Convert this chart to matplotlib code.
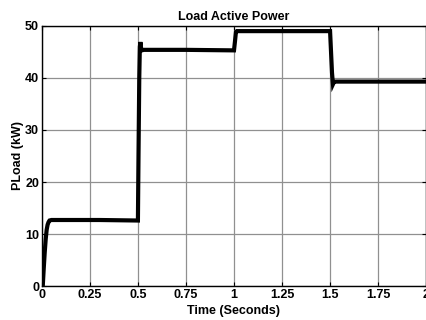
import matplotlib.pyplot as plt

plt.rcParams['font.family'] = 'Liberation Sans'
plt.rcParams['font.weight'] = 'bold'

# sampled load power (kW) vs time (s)
t = [0, 0.005, 0.01, 0.015, 0.02, 0.025, 0.03, 0.035, 0.04, 0.05, 0.07,
     0.3, 0.5, 0.503, 0.507, 0.51, 0.513, 0.517, 0.52, 0.53, 0.75,
     1.0, 1.005, 1.01, 1.015, 1.02, 1.25, 1.5, 1.505, 1.51, 1.515, 1.52, 1.53, 2.0]
p = [0, 0.2, 3.5, 6.5, 9.0, 10.8, 11.8, 12.3, 12.6, 12.7, 12.7,
     12.7, 12.6, 25.0, 40.0, 46.0, 46.9, 45.5, 45.3, 45.4, 45.4,
     45.3, 47.0, 48.8, 49.0, 49.0, 49.0, 49.0, 45.0, 41.0, 38.8, 39.2, 39.3, 39.3]

xticks = [0, 0.25, 0.5, 0.75, 1, 1.25, 1.5, 1.75, 2]
xticklabels = ['0', '0.25', '0.5', '0.75', '1', '1.25', '1.5', '1.75', '2']
yticks = [0, 10, 20, 30, 40, 50]

fig = plt.figure(figsize=(4.27, 3.2), dpi=100)
ax = fig.add_axes([0.098, 0.106, 0.9, 0.813])

ax.plot(t, p, color='black', linewidth=3.0, solid_joinstyle='miter')

ax.set_xlim(0, 2)
ax.set_ylim(0, 50)
ax.set_xticks(xticks)
ax.set_xticklabels(xticklabels)
ax.set_yticks(yticks)
ax.grid(True, color='#909090', linewidth=0.9)
ax.tick_params(direction='in', length=3, top=True, right=True,
               labelsize=9, pad=2)
for s in ax.spines.values():
    s.set_linewidth(1.0)

ax.set_title('Load Active Power', fontsize=9, fontweight='bold', pad=4)
ax.set_xlabel('Time (Seconds)', fontsize=9, fontweight='bold', labelpad=3)
ax.set_ylabel('PLoad (kW)', fontsize=9, fontweight='bold', labelpad=1)

fig.savefig('out.png', dpi=100)
